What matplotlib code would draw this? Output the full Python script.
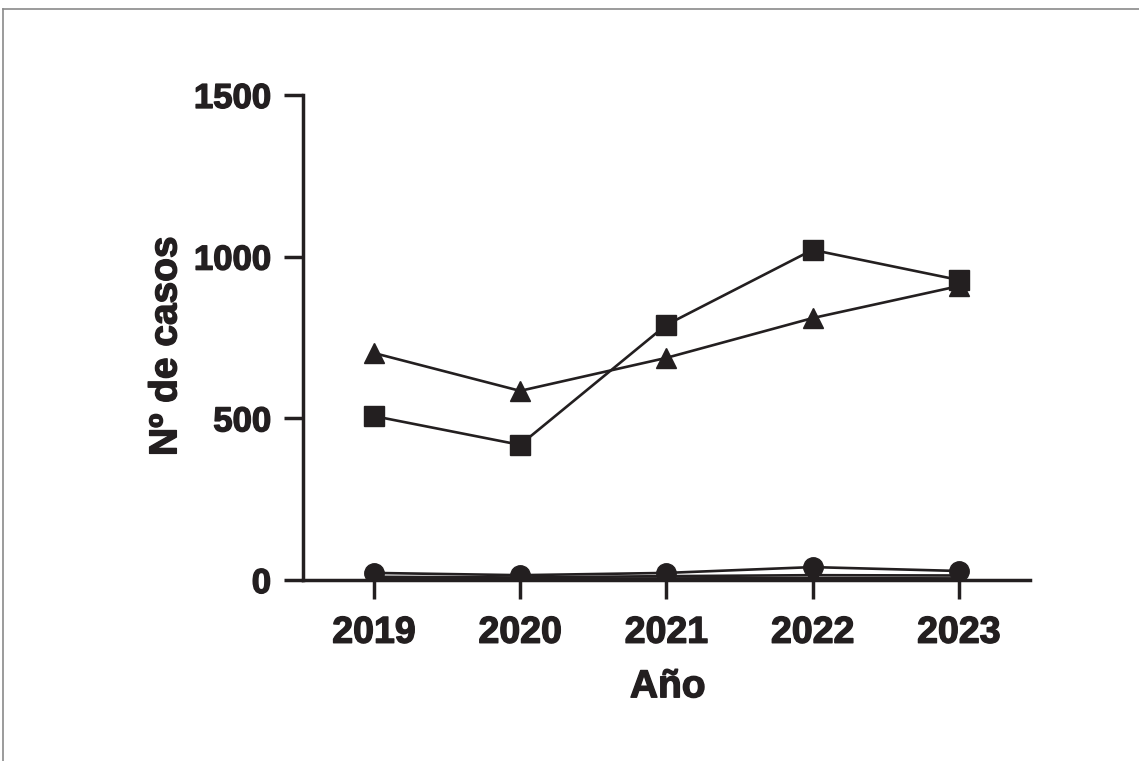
import matplotlib
matplotlib.use("Agg")
import matplotlib.pyplot as plt
import matplotlib.patheffects as pe
from matplotlib.lines import Line2D

plt.rcParams["font.family"] = ["Liberation Sans", "DejaVu Sans"]
plt.rcParams["font.weight"] = "bold"

years = [2019, 2020, 2021, 2022, 2023]
serie_triangulo = [702, 585, 687, 810, 909]
serie_cuadrado = [507, 418, 789, 1021, 928]
serie_circulo = [22, 15, 22, 40, 28]
serie_baja_1 = [10, 8, 12, 15, 14]
serie_baja_2 = [5, 3, 5, 6, 5]

yticks = [0, 500, 1000, 1500]

fig = plt.figure(figsize=(11.39, 7.61), dpi=100)
ax = fig.add_axes([0.266, 0.2378, 0.638, 0.6374])

lw = 1.9
col = "#231f20"
ax.plot(years, serie_baja_2, color=col, lw=lw, marker="o", ms=5, zorder=3)
ax.plot(years, serie_baja_1, color=col, lw=lw, marker="o", ms=7, zorder=3)
ax.plot(years, serie_circulo, color=col, lw=lw, marker="o", ms=14, zorder=4)
ax.plot(years, serie_triangulo, color=col, lw=lw, marker="^", ms=14, zorder=4)
ax.plot(years, serie_cuadrado, color=col, lw=lw, marker="s", ms=15, zorder=5)

ax.set_xlim(2018.515, 2023.485)
ax.set_ylim(0, 1500)
ax.set_xticks(years)
ax.set_yticks(yticks)
ax.tick_params(axis="both", direction="out", length=14, width=2.5, color=col)
ax.tick_params(axis="x", labelsize=27, pad=11)
ax.tick_params(axis="y", labelsize=25, pad=9)

# heavier lettering
grueso = [pe.withStroke(linewidth=1.0, foreground=col)]
for lab in ax.get_xticklabels() + ax.get_yticklabels():
    lab.set_fontweight("bold")
    lab.set_color(col)
    lab.set_path_effects(grueso)

for side in ["top", "right"]:
    ax.spines[side].set_visible(False)
for side in ["left", "bottom"]:
    ax.spines[side].set_linewidth(2.5)
    ax.spines[side].set_color(col)

ax.set_xlabel("Año", fontsize=28, fontweight="bold", color=col, va="center",
              path_effects=grueso)
ax.set_ylabel("Nº de casos", fontsize=28, fontweight="bold", color=col, va="center",
              path_effects=grueso)
ax.xaxis.set_label_coords(0.502, -0.221)
ax.yaxis.set_label_coords(-0.188, 0.482)

# gray frame around the figure
fig.add_artist(Line2D([3 / 1139, 3 / 1139], [0, 1 - 9 / 761], color="#8a8a8a", lw=1.2))
fig.add_artist(Line2D([3 / 1139, 1], [1 - 9 / 761, 1 - 9 / 761], color="#8a8a8a", lw=1.2))

fig.savefig("out.png", dpi=100)
